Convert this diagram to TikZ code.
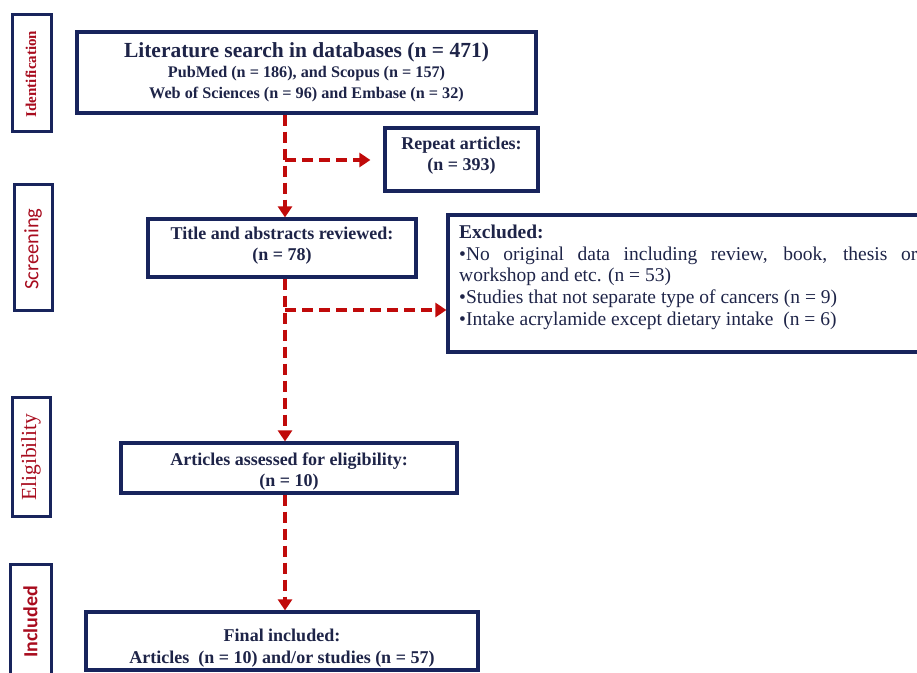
\documentclass[tikz,border=0pt]{standalone}
\usepackage{fontspec}
\setmainfont{Liberation Serif}
\usetikzlibrary{arrows.meta}
\newfontfamily\carlito{Carlito}
\definecolor{navy}{RGB}{24,36,92}
\definecolor{txt}{RGB}{30,36,72}
\definecolor{dred}{RGB}{192,10,10}
\definecolor{lblred}{RGB}{168,12,30}
\begin{document}
\begin{tikzpicture}[x=1pt,y=-1pt,
  box/.style={draw=navy, line width=3.2pt, fill=white, inner sep=0pt},
  sidebox/.style={draw=navy, line width=3pt, inner sep=0pt},
  btxt/.style={text=txt, align=center, inner sep=0pt, font=\bfseries\fontsize{18}{21.5}\selectfont},
  sidetxt/.style={text=lblred, rotate=90, inner sep=0pt},
  dline/.style={draw=dred, line width=3.8pt, dash pattern=on 11pt off 6pt},
  tip/.style={-{Triangle[length=11pt,width=14pt]}}]
\useasboundingbox (0,0) rectangle (917,672);
\clip (0,0) rectangle (917,672);

% side labels
\node[sidebox, minimum width=39pt, minimum height=117pt] (sid) at (31.5,72.5) {};
\node[sidetxt, font=\bfseries\fontsize{15}{17}\selectfont] (sidt) at (31,74) {Identification};
\node[sidebox, minimum width=38pt, minimum height=126pt] (ssc) at (33,247) {};
\node[sidetxt, font=\carlito\fontsize{20.5}{22}\selectfont] (ssct) at (33,249) {Screening};
\node[sidebox, minimum width=38pt, minimum height=119pt] (sel) at (31,456.5) {};
\node[sidetxt, font=\fontsize{21.5}{23}\selectfont] (selt) at (31,457) {Eligibility};
\node[sidebox, minimum width=41pt, minimum height=126pt] (sin) at (30.5,627) {};
\node[sidetxt, font=\carlito\bfseries\fontsize{20}{22}\selectfont] (sint) at (30.5,622) {Included};

% main boxes
\node[box, minimum width=459pt, minimum height=81pt] (lit) at (306.5,72.5) {};
\node[btxt] (litt) at (306.5,72) {{\fontsize{21.5}{22}\selectfont Literature search in databases (n = 471)}\\[-1pt]
  {\fontsize{16.2}{20.5}\selectfont PubMed (n = 186), and Scopus (n = 157)}\\[-1pt]
  {\fontsize{16.2}{20.5}\selectfont Web of Sciences (n = 96) and Embase (n = 32)}};

\node[box, minimum width=153pt, minimum height=63pt] (rep) at (461.5,159.5) {};
\node[btxt] (rept) at (461.5,155.5) {Repeat articles:\\(n = 393)};

\node[box, minimum width=268pt, minimum height=58pt] (tit) at (282,248) {};
\node[btxt] (titt) at (282,245.5) {Title and abstracts reviewed:\\(n = 78)};

\node[box, minimum width=482pt, minimum height=137pt] (exc) at (689,283.5) {};
\node[anchor=north west, text width=458pt, align=justify, inner sep=0pt, text=txt,
  font=\fontsize{19.5}{21.8}\selectfont] (exct) at (459,224.5)
  {\textbf{Excluded:}\\
   •No original data including review, book, thesis or\linebreak
   workshop and etc. (n = 53)\\
   •Studies that not separate type of cancers (n = 9)\\
   •Intake acrylamide except dietary intake\ \ (n = 6)};

\node[box, minimum width=336pt, minimum height=50pt] (ass) at (289,468) {};
\node[btxt] (asst) at (289,471.5) {Articles assessed for eligibility:\\(n = 10)};

\node[box, minimum width=392pt, minimum height=58pt] (fin) at (282,641) {};
\node[btxt] (fint) at (282,648) {Final included:\\Articles\ \ (n = 10) and/or studies (n = 57)};

% connectors
\coordinate (spine) at (285,0);
\coordinate (b1) at (285,160);
\coordinate (b2) at (285,310);
\draw[dline,tip] (lit.south -| spine) -- (tit.north -| spine);
\draw[dline,tip,shorten >=13pt] (b1) -- (b1 -| rep.west);
\draw[dline,tip] (tit.south -| spine) -- (ass.north -| spine);
\draw[dline,tip] (b2) -- (b2 -| exc.west);
\draw[dline,tip] (ass.south -| spine) -- (fin.north -| spine);
\end{tikzpicture}
\end{document}
